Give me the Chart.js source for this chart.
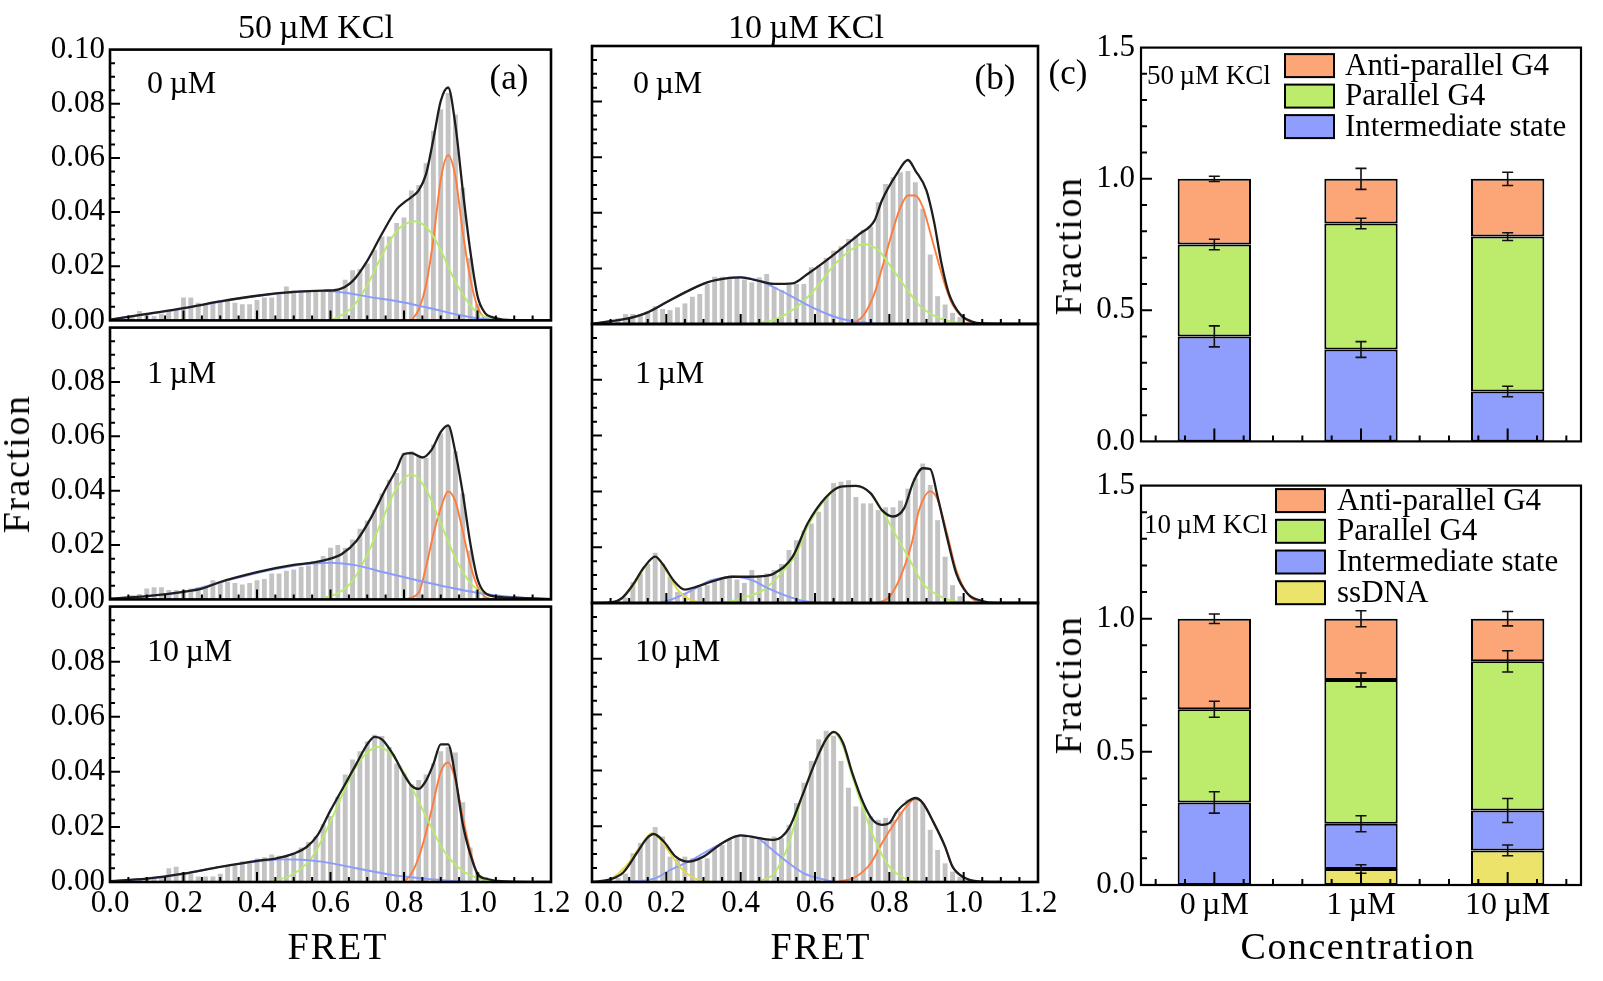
<!DOCTYPE html>
<html><head><meta charset="utf-8">
<script src="https://cdn.jsdelivr.net/npm/chart.js@4.4.1/dist/chart.umd.min.js"></script>
<style>
html,body{margin:0;padding:0;background:#fff;}
body{width:1603px;height:981px;position:relative;overflow:hidden;font-family:"Liberation Serif","DejaVu Serif",serif;color:#000;}
canvas{position:absolute;}
.t{position:absolute;white-space:nowrap;line-height:1;transform:translate(-50%,-50%);}
.l{position:absolute;white-space:nowrap;line-height:1;transform:translate(0,-50%);}
.r{position:absolute;white-space:nowrap;line-height:1;transform:translate(-50%,-50%) rotate(-90deg);}
</style></head><body>
<script>
// ---------------- DATA ----------------
const binsA = [0.02,0.04,0.06,0.08,0.10,0.12,0.14,0.16,0.18,0.20,0.22,0.24,0.26,0.28,0.30,0.32,0.34,0.36,0.38,0.40,0.42,0.44,0.46,0.48,0.50,0.52,0.54,0.56,0.58,0.60,0.62,0.64,0.66,0.68,0.70,0.72,0.74,0.76,0.78,0.80,0.82,0.84,0.86,0.88,0.90,0.92,0.94,0.96,0.98,1.00,1.02,1.04,1.06,1.08,1.10];
const binsB = [0.01,0.03,0.05,0.07,0.09,0.11,0.13,0.15,0.17,0.19,0.21,0.23,0.25,0.27,0.29,0.31,0.33,0.35,0.37,0.39,0.41,0.43,0.45,0.47,0.49,0.51,0.53,0.55,0.57,0.59,0.61,0.63,0.65,0.67,0.69,0.71,0.73,0.75,0.77,0.79,0.81,0.83,0.85,0.87,0.89,0.91,0.93,0.95,0.97,0.99,1.01,1.03,1.05,1.07,1.09];

// 50 uM KCl column
const histA1 = [0.0005,0.0005,0.0015,0.0035,0.0025,0.0015,0.0025,0.0035,0.004,0.0085,0.0085,0.0065,0.006,0.007,0.0075,0.0075,0.0065,0.006,0.006,0.0075,0.0085,0.0085,0.0095,0.0125,0.011,0.011,0.011,0.011,0.011,0.011,0.0115,0.015,0.0185,0.019,0.021,0.026,0.031,0.031,0.036,0.038,0.048,0.05,0.058,0.07,0.078,0.084,0.076,0.049,0.023,0.006,0.0015,0.0005,0,0,0];
const histA2 = [0.0005,0.001,0.0015,0.002,0.004,0.0045,0.0045,0.0035,0.0035,0.0035,0.004,0.0045,0.005,0.007,0.0065,0.0065,0.006,0.0055,0.006,0.007,0.0075,0.0095,0.0095,0.0105,0.011,0.012,0.0125,0.0135,0.016,0.019,0.02,0.019,0.022,0.026,0.029,0.033,0.039,0.044,0.0465,0.054,0.0545,0.053,0.052,0.057,0.061,0.064,0.0545,0.039,0.018,0.0035,0.001,0.0005,0,0,0];
const histA3 = [0.0005,0.001,0.001,0.001,0.0015,0.0015,0.002,0.005,0.0055,0.0035,0.003,0.002,0.002,0.002,0.003,0.0055,0.006,0.0075,0.0075,0.0085,0.009,0.01,0.0095,0.009,0.0105,0.0125,0.0145,0.0165,0.021,0.024,0.031,0.039,0.0445,0.0475,0.051,0.0535,0.053,0.049,0.043,0.0395,0.0355,0.037,0.039,0.043,0.0475,0.049,0.047,0.029,0.0125,0.0035,0.001,0.0005,0,0,0];
// 10 uM KCl column
const histB1 = [0.0003,0.0005,0.001,0.002,0.0036,0.0036,0.003,0.0045,0.0064,0.0054,0.005,0.006,0.0074,0.0098,0.0108,0.0144,0.017,0.017,0.0168,0.0168,0.016,0.015,0.0168,0.018,0.0132,0.0122,0.0142,0.0144,0.0144,0.0204,0.021,0.0238,0.0264,0.028,0.0306,0.0318,0.0339,0.035,0.0438,0.0504,0.0528,0.0546,0.055,0.051,0.0415,0.025,0.01,0.007,0.004,0.0025,0.0005,0.0002,0,0,0];
const histB2 = [0.0002,0.0003,0.0005,0.001,0.002,0.0075,0.0105,0.014,0.018,0.014,0.0095,0.004,0.0035,0.0045,0.0058,0.0064,0.008,0.0084,0.0094,0.0084,0.0072,0.0118,0.01,0.0106,0.0118,0.014,0.019,0.0225,0.026,0.0285,0.0327,0.038,0.043,0.0435,0.044,0.038,0.0357,0.0357,0.0333,0.0343,0.0343,0.0367,0.041,0.0447,0.05,0.0423,0.0297,0.0166,0.0064,0.0024,0.0008,0.0003,0,0,0];
const histB3 = [0.0002,0.0003,0.0005,0.0015,0.003,0.0103,0.014,0.0157,0.0197,0.0163,0.0091,0.0082,0.0091,0.0085,0.008,0.0085,0.0121,0.0133,0.0151,0.0166,0.0163,0.0157,0.0157,0.0151,0.0163,0.0157,0.0205,0.0283,0.0356,0.0434,0.0512,0.0542,0.0524,0.0434,0.0338,0.0271,0.0271,0.0235,0.0223,0.023,0.0223,0.0253,0.0295,0.0298,0.0283,0.0187,0.0115,0.0067,0.0037,0.0019,0.0007,0.0002,0,0,0];

// fitted curves: [FRET, fraction]
const totalA1 = [[0,0.0003],[0.10,0.0024],[0.20,0.0045],[0.30,0.007],[0.40,0.0091],[0.50,0.0105],[0.58,0.011],[0.62,0.0114],[0.66,0.0145],[0.70,0.022],[0.74,0.032],[0.78,0.041],[0.80,0.0435],[0.82,0.0455],[0.84,0.048],[0.86,0.054],[0.88,0.067],[0.90,0.081],[0.92,0.086],[0.94,0.072],[0.96,0.048],[0.98,0.026],[1.00,0.009],[1.02,0.0028],[1.04,0.0012],[1.07,0.0003],[1.10,0.0001],[1.20,0]];
const blueA1 = [[0,0.0003],[0.10,0.0023],[0.20,0.0044],[0.30,0.0069],[0.40,0.009],[0.50,0.0104],[0.58,0.0109],[0.64,0.0102],[0.70,0.0088],[0.80,0.0066],[0.88,0.0042],[0.95,0.002],[1.00,0.0008],[1.05,0.0002],[1.10,0]];
const greenA1 = [[0.60,0],[0.62,0.0012],[0.66,0.005],[0.70,0.013],[0.74,0.024],[0.78,0.033],[0.83,0.0366],[0.87,0.033],[0.90,0.026],[0.93,0.017],[0.97,0.0075],[1.00,0.0028],[1.03,0.0008],[1.06,0]];
const orangeA1 = [[0.82,0],[0.84,0.004],[0.86,0.013],[0.88,0.030],[0.90,0.052],[0.92,0.061],[0.94,0.053],[0.96,0.0325],[0.98,0.0158],[1.00,0.005],[1.02,0.0008],[1.04,0]];

const totalA2 = [[0,0.0003],[0.10,0.0012],[0.20,0.0028],[0.25,0.004],[0.30,0.0064],[0.40,0.01],[0.45,0.0115],[0.50,0.0127],[0.555,0.0136],[0.60,0.015],[0.63,0.0166],[0.67,0.0214],[0.71,0.030],[0.75,0.0406],[0.78,0.048],[0.80,0.0535],[0.82,0.0538],[0.85,0.0522],[0.875,0.055],[0.90,0.0616],[0.92,0.064],[0.94,0.054],[0.96,0.039],[0.98,0.021],[1.00,0.0075],[1.02,0.0025],[1.06,0.0009],[1.10,0.0006],[1.20,0.0001]];
const blueA2 = [[0,0.0003],[0.10,0.0012],[0.20,0.0028],[0.30,0.0063],[0.40,0.0097],[0.45,0.0112],[0.50,0.0124],[0.55,0.0132],[0.60,0.0135],[0.67,0.0125],[0.75,0.0098],[0.85,0.0066],[0.92,0.0045],[1.00,0.0024],[1.10,0.0008],[1.20,0.0002]];
const greenA2 = [[0.58,0.0005],[0.62,0.0022],[0.66,0.0068],[0.70,0.0165],[0.74,0.029],[0.78,0.041],[0.82,0.046],[0.86,0.0405],[0.90,0.028],[0.94,0.0152],[0.98,0.0062],[1.02,0.002],[1.06,0.0005],[1.10,0]];
const orangeA2 = [[0.80,0],[0.84,0.0025],[0.86,0.012],[0.88,0.024],[0.90,0.0335],[0.92,0.0397],[0.94,0.036],[0.96,0.025],[0.98,0.013],[1.00,0.0047],[1.02,0.001],[1.04,0]];

const totalA3 = [[0,0.0003],[0.10,0.0012],[0.20,0.003],[0.30,0.0055],[0.40,0.0077],[0.45,0.0085],[0.50,0.0103],[0.535,0.0127],[0.565,0.017],[0.60,0.026],[0.64,0.0356],[0.67,0.0428],[0.70,0.050],[0.72,0.0527],[0.74,0.0518],[0.77,0.0464],[0.80,0.039],[0.82,0.035],[0.84,0.0338],[0.86,0.0368],[0.88,0.0428],[0.90,0.050],[0.92,0.050],[0.94,0.038],[0.96,0.021],[0.98,0.0103],[1.00,0.003],[1.03,0.001],[1.08,0.0002],[1.20,0]];
const blueA3 = [[0,0.0003],[0.10,0.0012],[0.20,0.003],[0.30,0.0055],[0.40,0.0074],[0.47,0.0082],[0.52,0.0081],[0.58,0.0073],[0.67,0.005],[0.77,0.0025],[0.85,0.0013],[0.92,0.0005],[1.00,0.0001],[1.10,0]];
const greenA3 = [[0.44,0],[0.50,0.003],[0.55,0.009],[0.59,0.019],[0.63,0.031],[0.67,0.042],[0.70,0.047],[0.73,0.049],[0.76,0.047],[0.79,0.042],[0.83,0.032],[0.87,0.021],[0.91,0.011],[0.96,0.004],[1.01,0.001],[1.06,0]];
const orangeA3 = [[0.80,0],[0.82,0.003],[0.84,0.009],[0.86,0.018],[0.88,0.029],[0.90,0.040],[0.92,0.0434],[0.94,0.037],[0.96,0.0235],[0.98,0.0115],[1.00,0.003],[1.03,0]];

const totalB1 = [[0,0],[0.05,0.001],[0.09,0.0018],[0.15,0.0042],[0.20,0.0078],[0.26,0.012],[0.31,0.015],[0.37,0.0166],[0.40,0.0168],[0.44,0.0158],[0.49,0.0144],[0.54,0.0146],[0.58,0.018],[0.63,0.0228],[0.67,0.027],[0.72,0.0324],[0.76,0.0372],[0.78,0.0444],[0.82,0.054],[0.85,0.059],[0.87,0.0552],[0.90,0.048],[0.92,0.037],[0.94,0.022],[0.96,0.011],[0.99,0.0036],[1.02,0.001],[1.05,0.0002],[1.20,0]];
const blueB1 = [[0,0],[0.05,0.001],[0.10,0.002],[0.15,0.0042],[0.20,0.0078],[0.26,0.012],[0.31,0.015],[0.36,0.0165],[0.40,0.0168],[0.45,0.0155],[0.50,0.0125],[0.55,0.009],[0.60,0.0055],[0.65,0.0027],[0.70,0.001],[0.75,0.0003],[0.80,0]];
const greenB1 = [[0.44,0],[0.50,0.002],[0.55,0.006],[0.60,0.0125],[0.65,0.021],[0.70,0.027],[0.73,0.0288],[0.77,0.0265],[0.81,0.0195],[0.85,0.012],[0.88,0.0068],[0.92,0.003],[0.96,0.001],[1.00,0.0002],[1.04,0]];
const orangeB1 = [[0.70,0],[0.73,0.003],[0.76,0.011],[0.78,0.02],[0.81,0.034],[0.83,0.042],[0.85,0.0462],[0.87,0.0462],[0.89,0.042],[0.92,0.028],[0.95,0.014],[0.97,0.007],[1.00,0.0022],[1.03,0]];

const totalB2 = [[0,0],[0.05,0.0002],[0.08,0.0017],[0.11,0.0065],[0.14,0.0128],[0.17,0.0166],[0.19,0.014],[0.22,0.008],[0.25,0.0048],[0.28,0.0058],[0.33,0.008],[0.375,0.0094],[0.42,0.0094],[0.46,0.0096],[0.49,0.0106],[0.54,0.0166],[0.58,0.0285],[0.63,0.038],[0.67,0.0417],[0.71,0.042],[0.75,0.0393],[0.78,0.0333],[0.81,0.031],[0.84,0.034],[0.865,0.0435],[0.89,0.0483],[0.91,0.048],[0.93,0.038],[0.955,0.0237],[0.98,0.0106],[1.01,0.0034],[1.05,0.0007],[1.09,0],[1.20,0]];
const yellowB2 = [[0.05,0],[0.08,0.0015],[0.11,0.006],[0.14,0.0125],[0.17,0.0165],[0.20,0.0115],[0.23,0.0048],[0.26,0.0014],[0.29,0.0002],[0.31,0]];
const blueB2 = [[0.18,0],[0.22,0.0016],[0.27,0.0046],[0.31,0.0076],[0.35,0.009],[0.38,0.0095],[0.43,0.0082],[0.47,0.0055],[0.53,0.0022],[0.57,0.0007],[0.62,0]];
const greenB2 = [[0.35,0],[0.40,0.0016],[0.46,0.0046],[0.50,0.0094],[0.55,0.0178],[0.58,0.0273],[0.63,0.0375],[0.67,0.0417],[0.71,0.042],[0.75,0.0393],[0.78,0.0333],[0.82,0.0237],[0.86,0.0142],[0.89,0.007],[0.94,0.0022],[0.98,0.0005],[1.02,0]];
const orangeB2 = [[0.77,0],[0.80,0.0022],[0.83,0.0094],[0.86,0.0213],[0.88,0.0333],[0.91,0.040],[0.93,0.037],[0.955,0.025],[0.98,0.0118],[1.01,0.0034],[1.04,0.0003],[1.06,0]];

const totalB3 = [[0,0],[0.05,0.001],[0.084,0.0034],[0.12,0.0103],[0.148,0.0157],[0.166,0.0172],[0.193,0.0145],[0.225,0.0091],[0.26,0.0073],[0.30,0.0091],[0.35,0.0139],[0.40,0.0167],[0.45,0.0157],[0.49,0.0151],[0.53,0.0193],[0.565,0.0307],[0.60,0.0428],[0.63,0.0512],[0.65,0.0538],[0.675,0.050],[0.70,0.0392],[0.73,0.0283],[0.755,0.0223],[0.78,0.0205],[0.80,0.0211],[0.82,0.0253],[0.85,0.0289],[0.87,0.0301],[0.89,0.0283],[0.92,0.0211],[0.95,0.0127],[0.97,0.0055],[1.00,0.0017],[1.04,0.0002],[1.10,0]];
const yellowB3 = [[0.03,0],[0.05,0.001],[0.09,0.0055],[0.13,0.0127],[0.16,0.0175],[0.18,0.0158],[0.21,0.0103],[0.24,0.0049],[0.27,0.0017],[0.30,0.0003],[0.32,0]];
const blueB3 = [[0,0],[0.10,0.0002],[0.17,0.0013],[0.21,0.0043],[0.26,0.0073],[0.30,0.0103],[0.35,0.0139],[0.40,0.0167],[0.45,0.0154],[0.48,0.0121],[0.53,0.0067],[0.57,0.0031],[0.62,0.001],[0.65,0]];
const greenB3 = [[0.44,0],[0.49,0.0031],[0.53,0.0139],[0.565,0.0307],[0.60,0.0428],[0.63,0.0506],[0.65,0.0536],[0.675,0.0488],[0.70,0.038],[0.73,0.026],[0.765,0.0139],[0.80,0.0055],[0.85,0.0007],[0.87,0]];
const orangeB3 = [[0.66,0],[0.71,0.0019],[0.75,0.0067],[0.78,0.0139],[0.82,0.0223],[0.85,0.0277],[0.87,0.0298],[0.89,0.0283],[0.92,0.0211],[0.95,0.0127],[0.97,0.0055],[1.00,0.0017],[1.04,0.0001],[1.06,0]];

// panel (c) stacked fractions
const concLabels = ['0\u2009µM','1\u2009µM','10\u2009µM'];
const k50Intermediate = [0.40,0.35,0.19];
const k50Parallel = [0.35,0.48,0.59];
const k50Anti = [0.25,0.17,0.22];
const k50ErrIntermediate = [0.04,0.03,0.02];
const k50ErrParallel = [0.02,0.02,0.015];
const k50ErrAnti = [0.01,0.04,0.025];
const k10ssDNA = [0,0.06,0.13];
const k10Intermediate = [0.31,0.17,0.15];
const k10Parallel = [0.35,0.54,0.56];
const k10Anti = [0.34,0.23,0.16];
const k10ErrssDNA = [0,0.016,0.02];
const k10ErrIntermediate = [0.04,0.03,0.045];
const k10ErrParallel = [0.03,0.026,0.04];
const k10ErrAnti = [0.018,0.03,0.027];

// ---------------- STYLE / LAYOUT ----------------
Chart.defaults.font.family = '"Liberation Serif", "DejaVu Serif", serif';
Chart.defaults.color = '#000';
const COLOR = {blue:'#8a9bff', green:'#b8ea6c', orange:'#ff7b3c', yellow:'#e4d84e', total:'#1e1e1e', bar:'#c3c3c3'};
const FILL = {anti:'#fca678', par:'#bdeb6c', inter:'#8f9dfc', ss:'#ece36b'};
const ROWS = [[46,324],[324,603],[603,882]];
const COLS = {A:[110,551], B:[592,1038]};
const TICK_FONT = 31;

function makeCanvas(left, top, w, h){
  const c = document.createElement('canvas');
  c.width = w; c.height = h;
  c.style.left = left+'px'; c.style.top = top+'px';
  c.style.width = w+'px'; c.style.height = h+'px';
  document.body.appendChild(c);
  return c;
}
const pairs = arr => arr.map(p => ({x:p[0], y:p[1]}));

const histFrame = {
  id:'histFrame',
  afterDatasetsDraw(chart){
    const {ctx, chartArea:a, scales:{x,y}} = chart;
    ctx.save();
    ctx.strokeStyle = '#000'; ctx.lineWidth = 2;
    ctx.beginPath();
    for (let i=1;i<24;i++){ const px = x.getPixelForValue(i*0.05); const len = (i%4===0)?10:5; ctx.moveTo(px,a.bottom); ctx.lineTo(px,a.bottom-len); }
    for (let i=1;i<20;i++){ const py = y.getPixelForValue(i*0.005); const len = (i%4===0)?10:5; ctx.moveTo(a.left,py); ctx.lineTo(a.left+len,py); }
    ctx.stroke();
    ctx.lineWidth = 2.6;
    ctx.strokeRect(a.left, a.top, a.right-a.left, a.bottom-a.top);
    ctx.restore();
  }
};

function makeHist(p){
  const [L,R] = COLS[p.col]; const [T,B] = ROWS[p.row];
  const showY = p.col==='A', showX = p.row===2;
  const yw = showY ? L : 60, xh = showX ? 45 : 0;
  const padT=20, padR=30, padB=20;
  const cv = makeCanvas(L-yw, T-padT, yw+(R-L)+padR, padT+(B-T)+xh+padB);
  const datasets = [];
  datasets.push({type:'line', data:pairs(p.total), borderColor:COLOR.total, borderWidth:2.3, order:1});
  p.comps.forEach(([c,arr]) => datasets.push({type:'line', data:pairs(arr), borderColor:COLOR[c], borderWidth:1.9, order:2}));
  datasets.push({type:'bar', data:p.bins.map((x,i)=>({x, y:p.hist[i]})), backgroundColor:COLOR.bar, barPercentage:0.66, categoryPercentage:1, order:10});
  new Chart(cv, {
    type:'bar', data:{datasets},
    options:{
      responsive:false, animation:false, devicePixelRatio:1,
      layout:{padding:{left:0,right:padR,top:padT,bottom:padB}, autoPadding:false},
      elements:{point:{radius:0}, line:{cubicInterpolationMode:'monotone', fill:false}},
      plugins:{legend:{display:false}, tooltip:{enabled:false}},
      scales:{
        x:{type:'linear', min:0, max:1.2, offset:false, grid:{display:false, drawTicks:false}, border:{display:false},
           ticks:{display:showX, stepSize:0.2, padding:3, maxRotation:0, autoSkip:false, font:{size:TICK_FONT},
                  callback:v => (p.col==='B' && Math.abs(v)<1e-9) ? '   0.0' : v.toFixed(1)},
           afterFit:s=>{s.height = xh;}},
        y:{type:'linear', min:0, max:0.1, grid:{display:false, drawTicks:false}, border:{display:false},
           ticks:{display:showY, stepSize:0.02, padding:5, font:{size:TICK_FONT}, callback:v => (p.row>0 && v>0.099) ? '' : v.toFixed(2)},
           afterFit:s=>{s.width = yw;}}
      }
    },
    plugins:[histFrame]
  });
}

const panels = [
  {col:'A', row:0, bins:binsA, hist:histA1, total:totalA1, comps:[['blue',blueA1],['green',greenA1],['orange',orangeA1]]},
  {col:'A', row:1, bins:binsA, hist:histA2, total:totalA2, comps:[['blue',blueA2],['green',greenA2],['orange',orangeA2]]},
  {col:'A', row:2, bins:binsA, hist:histA3, total:totalA3, comps:[['blue',blueA3],['green',greenA3],['orange',orangeA3]]},
  {col:'B', row:0, bins:binsB, hist:histB1, total:totalB1, comps:[['blue',blueB1],['green',greenB1],['orange',orangeB1]]},
  {col:'B', row:1, bins:binsB, hist:histB2, total:totalB2, comps:[['yellow',yellowB2],['blue',blueB2],['green',greenB2],['orange',orangeB2]]},
  {col:'B', row:2, bins:binsB, hist:histB3, total:totalB3, comps:[['yellow',yellowB3],['blue',blueB3],['green',greenB3],['orange',orangeB3]]}
];
panels.forEach(makeHist);

// ---------- stacked bar panel (c) ----------
const stackDecor = {
  id:'stackDecor',
  afterDatasetsDraw(chart, args, o){
    const {ctx, chartArea:a, scales:{x,y}} = chart;
    ctx.save();
    ctx.strokeStyle = '#111'; ctx.lineWidth = 1.6;
    ctx.beginPath();
    chart.data.datasets.forEach((d, di) => {
      const meta = chart.getDatasetMeta(di);
      meta.data.forEach((el, i) => {
        const e = o.errs[di][i]; if (!e) return;
        const h = y.getPixelForValue(0) - y.getPixelForValue(e);
        ctx.moveTo(el.x, el.y-h); ctx.lineTo(el.x, el.y+h);
        ctx.moveTo(el.x-5.5, el.y-h); ctx.lineTo(el.x+5.5, el.y-h);
        ctx.moveTo(el.x-5.5, el.y+h); ctx.lineTo(el.x+5.5, el.y+h);
      });
    });
    ctx.stroke();
    ctx.strokeStyle = '#000'; ctx.lineWidth = 2;
    ctx.beginPath();
    const step = x.getPixelForValue(1) - x.getPixelForValue(0);
    for (let k=-2;k<=12;k++){ const px = x.getPixelForValue(0) + k*0.2*step; const len = (k%5===0)?13:6; ctx.moveTo(px,a.bottom); ctx.lineTo(px,a.bottom-len); }
    for (let k=1;k<15;k++){ const py = y.getPixelForValue(k*0.1); const len = (k%5===0)?11:6; ctx.moveTo(a.left,py); ctx.lineTo(a.left+len,py); }
    ctx.stroke();
    ctx.lineWidth = 2.2;
    ctx.strokeRect(a.left, a.top, a.right-a.left, a.bottom-a.top);
    ctx.font = '31px "Liberation Serif", serif';
    ctx.textBaseline = 'middle'; ctx.textAlign = 'left';
    o.legendOrder.forEach((di, k) => {
      const d = chart.data.datasets[di];
      const cy = a.top + o.ly0 + k*o.ldy, bx = a.left + o.lx;
      ctx.fillStyle = d.backgroundColor; ctx.fillRect(bx, cy-11.5, 49, 23);
      ctx.lineWidth = 2; ctx.strokeStyle = '#000'; ctx.strokeRect(bx, cy-11.5, 49, 23);
      ctx.fillStyle = '#000'; ctx.fillText(d.label, a.left + o.ltx, cy+1);
    });
    ctx.restore();
  }
};

function makeStack(cfg){
  const L=1141, R=1581, T=cfg.T, B=cfg.B;
  const yw=60, xh = cfg.showX ? 45 : 0, padT=20, padR=20, padB=20;
  const cv = makeCanvas(L-yw, T-padT, yw+(R-L)+padR, padT+(B-T)+xh+padB);
  const datasets = cfg.series.map(s => ({label:s.label, data:s.data, backgroundColor:s.color, borderColor:'#000', borderWidth:2, borderSkipped:false, barPercentage:0.5, categoryPercentage:1}));
  new Chart(cv, {
    type:'bar', data:{labels:concLabels, datasets},
    options:{
      responsive:false, animation:false, devicePixelRatio:1,
      layout:{padding:{left:0,right:padR,top:padT,bottom:padB}, autoPadding:false},
      plugins:{legend:{display:false}, tooltip:{enabled:false},
        stackDecor:{errs:cfg.series.map(s=>s.err), legendOrder:cfg.legendOrder, lx:cfg.lx, ltx:cfg.ltx, ly0:cfg.ly0, ldy:cfg.ldy}},
      scales:{
        x:{stacked:true, offset:true, grid:{display:false, drawTicks:false}, border:{display:false},
           ticks:{display:cfg.showX, padding:1, font:{size:32}, maxRotation:0}, afterFit:s=>{s.height = xh;}},
        y:{stacked:true, min:0, max:1.5, grid:{display:false, drawTicks:false}, border:{display:false},
           ticks:{stepSize:0.5, padding:6, font:{size:TICK_FONT}, callback:v=>v.toFixed(1)}, afterFit:s=>{s.width = yw;}}
      }
    },
    plugins:[stackDecor]
  });
}

makeStack({T:43, B:446, showX:false, lx:144, ltx:204, ly0:18, ldy:30.5, legendOrder:[2,1,0],
  series:[
    {label:'Intermediate state', data:k50Intermediate, err:k50ErrIntermediate, color:FILL.inter},
    {label:'Parallel G4', data:k50Parallel, err:k50ErrParallel, color:FILL.par},
    {label:'Anti-parallel G4', data:k50Anti, err:k50ErrAnti, color:FILL.anti}
  ]});
makeStack({T:481, B:885, showX:true, lx:135, ltx:196, ly0:15, ldy:30.7, legendOrder:[3,2,1,0],
  series:[
    {label:'ssDNA', data:k10ssDNA, err:k10ErrssDNA, color:FILL.ss},
    {label:'Intermediate state', data:k10Intermediate, err:k10ErrIntermediate, color:FILL.inter},
    {label:'Parallel G4', data:k10Parallel, err:k10ErrParallel, color:FILL.par},
    {label:'Anti-parallel G4', data:k10Anti, err:k10ErrAnti, color:FILL.anti}
  ]});

// ---------- text ----------
function txt(cls, s, x, y, size, extra){
  const d = document.createElement('div');
  d.className = cls; d.textContent = s;
  d.style.left = x+'px'; d.style.top = y+'px'; d.style.fontSize = size+'px';
  if (extra) Object.assign(d.style, extra);
  document.body.appendChild(d);
}
txt('t','50\u2009µM KCl',316,27,34);
txt('t','10\u2009µM KCl',806,27,34);
txt('t','(a)',509,77,35);
txt('t','(b)',995,77,35);
txt('t','(c)',1068,72,35);
txt('l','0\u2009µM',147,82,32);
txt('l','1\u2009µM',147,372,32);
txt('l','10\u2009µM',147,650,32);
txt('l','0\u2009µM',633,82,32);
txt('l','1\u2009µM',635,372,32);
txt('l','10\u2009µM',635,650,32);
txt('r','Fraction',16,464,38,{letterSpacing:'1.5px'});
txt('r','Fraction',1068,246,38,{letterSpacing:'1.5px'});
txt('r','Fraction',1068,685,38,{letterSpacing:'1.5px'});
txt('t','FRET',338,946,38,{letterSpacing:'2px'});
txt('t','FRET',821,946,38,{letterSpacing:'2px'});
txt('t','Concentration',1358,946,38,{letterSpacing:'1.5px'});
txt('l','50\u2009µM KCl',1147,75,27);
txt('l','10\u2009µM KCl',1144,524,27);
</script>
</body></html>
